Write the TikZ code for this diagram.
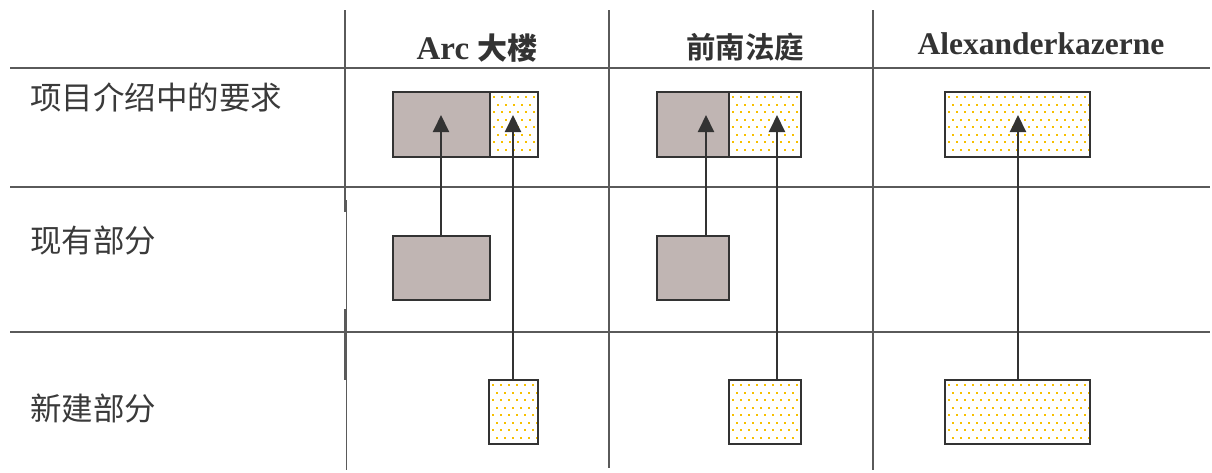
\documentclass[tikz,border=0pt]{standalone}
\usepackage{fontspec}
\setmainfont{Liberation Serif}
\newfontfamily\cjk{Noto Sans CJK SC}
\newfontfamily\cjkb{Noto Sans CJK SC Bold}
\usetikzlibrary{arrows.meta}
\definecolor{gridc}{HTML}{5A5A5A}
\definecolor{boxc}{HTML}{333333}
\definecolor{grayfill}{HTML}{C0B5B3}
\definecolor{dotc}{HTML}{F7C000}
\definecolor{txtc}{HTML}{333333}
\definecolor{lbl}{HTML}{3A3A3A}
\tikzset{
  gridline/.style={draw=gridc, line width=2},
  thinline/.style={draw=gridc, line width=1},
  graybox/.style={draw=boxc, line width=2.5, fill=grayfill, inner sep=0, outer sep=0},
  dotbox/.style={draw=boxc, line width=2.5, fill=white, inner sep=0, outer sep=0,
    path picture={
      \foreach \j in {0,...,9}{\foreach \i in {0,...,19}{
        \fill[dotc] ([shift={({\i*8+mod(\j,2)*4+3},{\j*7.5+4})}]path picture bounding box.north west) rectangle +(2.2,2.2);
      }}
    }},
  arr/.style={draw=boxc, line width=2, -{Triangle[width=16pt,length=17pt]}},
  rowlabel/.style={anchor=west, text=lbl, font=\cjk\fontsize{31.5}{31.5}\selectfont, inner sep=0},
  header/.style={text=txtc, inner sep=0}
}
\begin{document}
\begin{tikzpicture}[x=1pt,y=-1pt]
\useasboundingbox (0,0) rectangle (1212,472);
% grid lines
\draw[gridline] (10,68) -- (1210,68);
\draw[gridline] (10,187) -- (1210,187);
\draw[gridline] (10,332) -- (1210,332);
\draw[gridline] (345,10) -- (345,212);
\draw[gridline] (345,309) -- (345,380);
\draw[thinline] (346.5,200) -- (346.5,470);
\draw[gridline] (609,10) -- (609,468);
\draw[gridline] (873,10) -- (873,470);
% headers
\node[header, font=\bfseries\fontsize{33}{33}\selectfont] (h1) at (477,48) {Arc {\cjkb\fontsize{30}{30}\selectfont 大楼}};
\node[header, font=\cjkb\fontsize{29.5}{29.5}\selectfont] (h2) at (745,47) {前南法庭};
\node[header, font=\bfseries\fontsize{31.5}{31.5}\selectfont] (h3) at (1041,44) {Alexanderkazerne};
% row labels
\node[rowlabel] (r1) at (30,97) {项目介绍中的要求};
\node[rowlabel] (r2) at (30,241) {现有部分};
\node[rowlabel] (r3) at (30,409) {新建部分};
% Arc boxes
\node[graybox, minimum width=97, minimum height=65] (a1g) at (441.5,124.5) {};
\node[dotbox, minimum width=48, minimum height=65] (a1d) at (514,124.5) {};
\node[graybox, minimum width=97, minimum height=64] (a2) at (441.5,268) {};
\node[dotbox, minimum width=49, minimum height=64] (a3) at (513.5,412) {};
% former court boxes
\node[graybox, minimum width=72, minimum height=65] (b1g) at (693,124.5) {};
\node[dotbox, minimum width=72, minimum height=65] (b1d) at (765,124.5) {};
\node[graybox, minimum width=72, minimum height=64] (b2) at (693,268) {};
\node[dotbox, minimum width=72, minimum height=64] (b3) at (765,412) {};
% Alexanderkazerne boxes
\node[dotbox, minimum width=145, minimum height=65] (c1) at (1017.5,124.5) {};
\node[dotbox, minimum width=145, minimum height=64] (c3) at (1017.5,412) {};
% arrow targets
\coordinate (ta) at (441,115);
\coordinate (tb) at (513,115);
\coordinate (tc) at (706,115);
\coordinate (td) at (777,115);
\coordinate (te) at (1018,115);
\draw[arr] (a2.north -| ta) -- (ta);
\draw[arr] (a3.north -| tb) -- (tb);
\draw[arr] (b2.north -| tc) -- (tc);
\draw[arr] (b3.north -| td) -- (td);
\draw[arr] (c3.north -| te) -- (te);
\end{tikzpicture}
\end{document}
